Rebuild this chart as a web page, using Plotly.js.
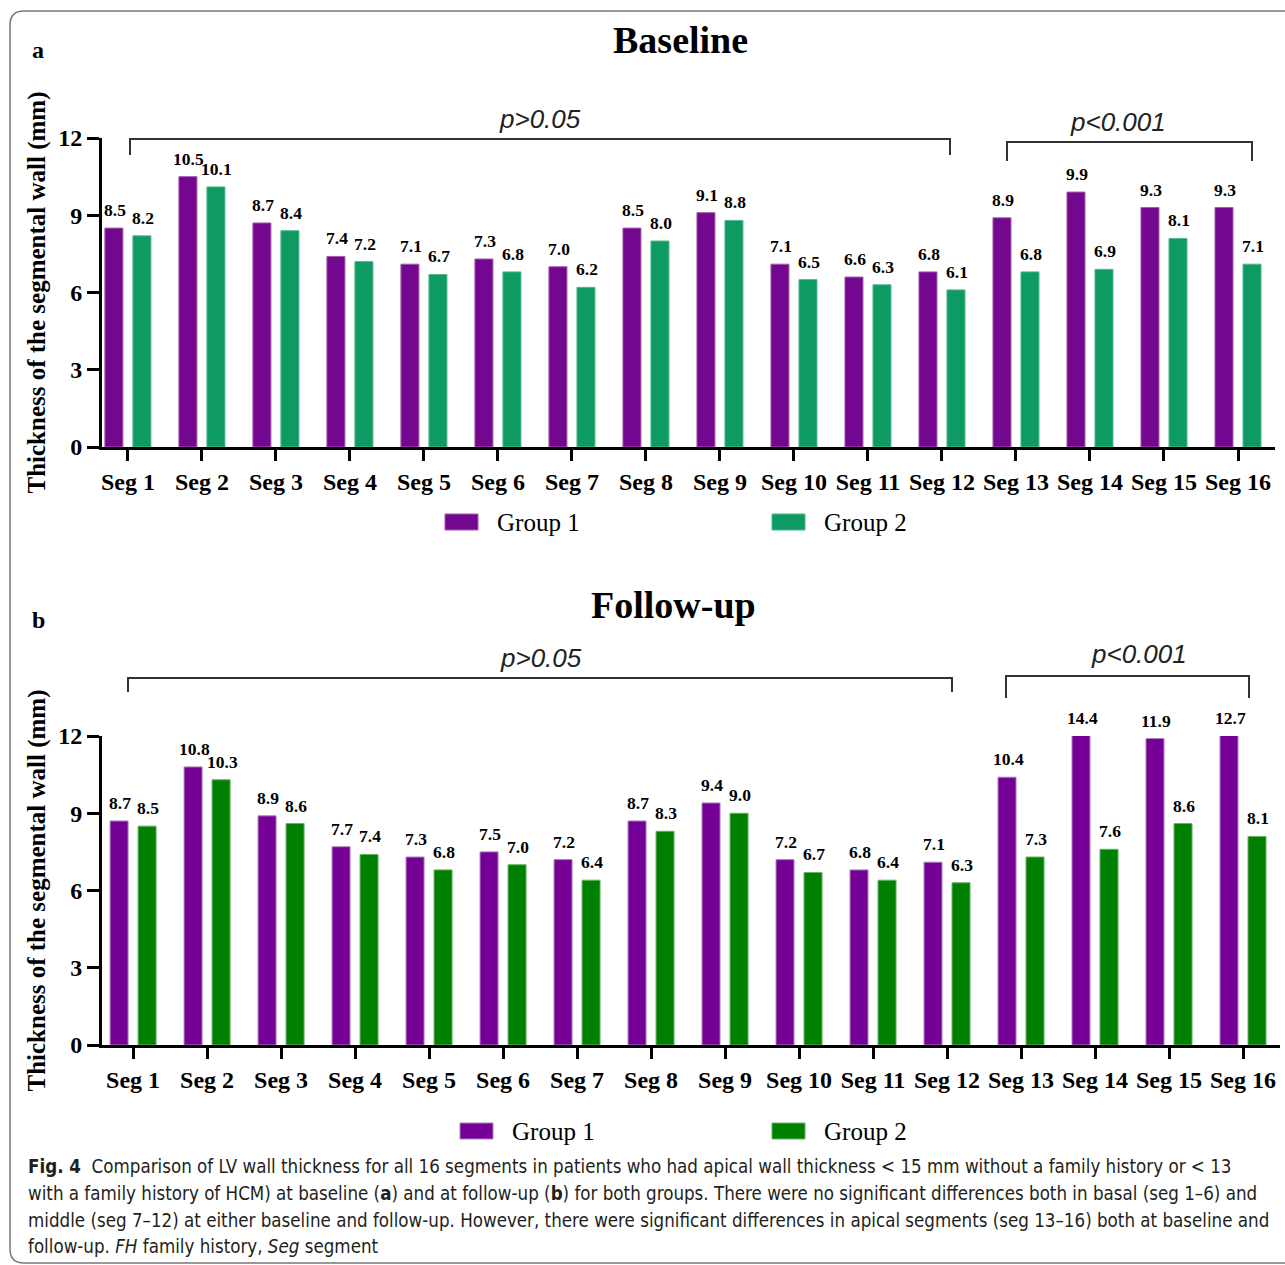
<!DOCTYPE html>
<html>
<head>
<meta charset="utf-8">
<script src="https://cdn.plot.ly/plotly-3.0.1.min.js"></script>
<style>html,body{margin:0;padding:0;background:#fff;}#chart{width:1285px;height:1265px;}</style>
</head>
<body>
<div id="chart"></div>
<script>
// ---------- DATA ----------
const segments = ['Seg 1','Seg 2','Seg 3','Seg 4','Seg 5','Seg 6','Seg 7','Seg 8','Seg 9','Seg 10','Seg 11','Seg 12','Seg 13','Seg 14','Seg 15','Seg 16'];
const yTicks = [0, 3, 6, 9, 12];
const baselineGroup1 = [8.5,10.5,8.7,7.4,7.1,7.3,7.0,8.5,9.1,7.1,6.6,6.8,8.9,9.9,9.3,9.3];
const baselineGroup2 = [8.2,10.1,8.4,7.2,6.7,6.8,6.2,8.0,8.8,6.5,6.3,6.1,6.8,6.9,8.1,7.1];
const followGroup1   = [8.7,10.8,8.9,7.7,7.3,7.5,7.2,8.7,9.4,7.2,6.8,7.1,10.4,14.4,11.9,12.7];
const followGroup2   = [8.5,10.3,8.6,7.4,6.8,7.0,6.4,8.3,9.0,6.7,6.4,6.3,7.3,7.6,8.6,8.1];
const seriesNames = ['Group 1','Group 2'];
const panelTitles = ['Baseline','Follow-up'];
const panelLetters = ['a','b'];
const pLabels = ['p>0.05','p<0.001'];
const captionLines = [
  '<b>Fig. 4</b>  Comparison of LV wall thickness for all 16 segments in patients who had apical wall thickness &lt; 15 mm without a family history or &lt; 13',
  'with a family history of HCM) at baseline (<b>a</b>) and at follow-up (<b>b</b>) for both groups. There were no significant differences both in basal (seg 1–6) and',
  'middle (seg 7–12) at either baseline and follow-up. However, there were significant differences in apical segments (seg 13–16) both at baseline and',
  'follow-up. <i>FH</i> family history, <i>Seg</i> segment'
];

// ---------- STYLE / LAYOUT HELPERS ----------
const W = 1285, H = 1265;
const px = x => x / W;
const py = y => 1 - y / H;
const SERIF = 'Liberation Serif, Times New Roman, serif';
const SANS = 'Liberation Sans, Arial, sans-serif';
const NARROW = 'Liberation Sans Narrow, Arial Narrow, DejaVu Sans Condensed, sans-serif';
const colorsA = ['#74078f', '#0e9a63'];
const colorsB = ['#740096', '#008000'];
const borderA = ['#a35aa8', '#4fb98c'];
const borderB = ['#b07fc5', '#66b266'];
const YMAX = 12;

function barTrace(vals, name, color, line, xa, ya) {
  return {
    type: 'bar', x: segments, y: vals, name: name, xaxis: xa, yaxis: ya,
    marker: {color: color, line: {color: line, width: 1}},
    showlegend: false, hoverinfo: 'x+y+name'
  };
}

const data = [
  barTrace(baselineGroup1, seriesNames[0], colorsA[0], borderA[0], 'x', 'y'),
  barTrace(baselineGroup2, seriesNames[1], colorsA[1], borderA[1], 'x', 'y'),
  barTrace(followGroup1, seriesNames[0], colorsB[0], borderB[0], 'x2', 'y2'),
  barTrace(followGroup2, seriesNames[1], colorsB[1], borderB[1], 'x2', 'y2')
];

function xAxis(domain, range, anchor) {
  return {
    domain: domain, anchor: anchor, type: 'category', range: range,
    showline: true, linewidth: 3, linecolor: '#000', ticks: 'outside', ticklen: 11, tickwidth: 3, tickcolor: '#000',
    tickfont: {family: SERIF, size: 24, color: '#000', weight: 'bold'},
    showgrid: false, zeroline: false, fixedrange: true
  };
}
function yAxis(domain, anchor) {
  return {
    domain: domain, anchor: anchor, range: [0, YMAX], tickvals: yTicks, ticktext: yTicks.map(String),
    showline: true, linewidth: 3, linecolor: '#000', ticks: 'outside', ticklen: 12, tickwidth: 3, tickcolor: '#000',
    tickfont: {family: SERIF, size: 24, color: '#000', weight: 'bold'},
    showgrid: false, zeroline: false, fixedrange: true,
    title: {text: 'Thickness of the segmental wall (mm)', standoff: 6, font: {family: SERIF, size: 25, color: '#000', weight: 'bold'}}
  };
}

const annotations = [];
const shapes = [];

// value labels
function addLabels(vals, xref, yref, shift) {
  vals.forEach((v, i) => {
    annotations.push({
      xref: xref, yref: yref, x: i, y: Math.min(v, YMAX), xshift: shift, yshift: 6,
      yanchor: 'bottom', xanchor: 'center', showarrow: false,
      text: v.toFixed(1), font: {family: SERIF, size: 17.5, color: '#000', weight: 'bold'}
    });
  });
}
addLabels(baselineGroup1, 'x', 'y', -13);
addLabels(baselineGroup2, 'x', 'y', 15);
addLabels(followGroup1, 'x2', 'y2', -13);
addLabels(followGroup2, 'x2', 'y2', 15);

function txt(x, y, text, font, xanchor) {
  annotations.push({xref: 'paper', yref: 'paper', x: px(x), y: py(y), text: text, showarrow: false,
    xanchor: xanchor || 'center', yanchor: 'middle', font: font});
}
// titles, letters
txt(680, 40, panelTitles[0], {family: SERIF, size: 38, color: '#000', weight: 'bold'});
txt(673, 605, panelTitles[1], {family: SERIF, size: 38, color: '#000', weight: 'bold'});
txt(38, 50, panelLetters[0], {family: SERIF, size: 24, color: '#000', weight: 'bold'});
txt(38, 620, panelLetters[1], {family: SERIF, size: 24, color: '#000', weight: 'bold'});
// p-values
const pFont = {family: SANS, size: 26, color: '#222', style: 'italic'};
txt(540, 119, pLabels[0], pFont);
txt(1118, 122, pLabels[1], pFont);
txt(541, 658, pLabels[0], pFont);
txt(1139, 654, pLabels[1], pFont);

function bracket(x0, x1, yTop, yBot) {
  shapes.push({type: 'path', xref: 'paper', yref: 'paper',
    path: `M ${px(x0)} ${py(yBot)} L ${px(x0)} ${py(yTop)} L ${px(x1)} ${py(yTop)} L ${px(x1)} ${py(yBot)}`,
    line: {color: '#333', width: 2}});
}
bracket(130, 950, 139, 155);
bracket(1007, 1252, 142, 161);
bracket(128, 952, 678, 692);
bracket(1006, 1249, 676, 698);

// legends
function legendItem(x, y, color, line, label) {
  shapes.push({type: 'rect', xref: 'paper', yref: 'paper', x0: px(x), x1: px(x + 33), y0: py(y + 8), y1: py(y - 8),
    fillcolor: color, line: {color: line, width: 1}});
  txt(x + 50, y, label, {family: SERIF, size: 25, color: '#000'}, 'left');
}
legendItem(445, 522, colorsA[0], borderA[0], seriesNames[0]);
legendItem(772, 522, colorsA[1], borderA[1], seriesNames[1]);
legendItem(460, 1131, colorsB[0], borderB[0], seriesNames[0]);
legendItem(772, 1131, colorsB[1], borderB[1], seriesNames[1]);

// caption
const capY = [1166, 1193, 1220, 1246];
captionLines.forEach((l, i) => txt(26, capY[i], l, {family: NARROW, size: 18.6, color: '#231f20'}, 'left'));

// frame
shapes.push({type: 'path', xref: 'paper', yref: 'paper', layer: 'below',
  path: `M ${px(1300)} ${py(11)} L ${px(24)} ${py(11)} Q ${px(10)} ${py(11)} ${px(10)} ${py(25)} L ${px(10)} ${py(1249)} Q ${px(10)} ${py(1263)} ${px(24)} ${py(1263)} L ${px(1300)} ${py(1263)}`,
  line: {color: '#777', width: 1.5}});

const layout = {
  width: W, height: H, margin: {l: 0, r: 0, t: 0, b: 0},
  paper_bgcolor: '#fff', plot_bgcolor: 'rgba(0,0,0,0)',
  barmode: 'group', bargap: 0.243, bargroupgap: 0.357,
  showlegend: false,
  xaxis: xAxis([px(102), px(1275)], [-0.35, 15.5], 'y'),
  yaxis: yAxis([py(447), py(138)], 'x'),
  xaxis2: xAxis([px(102), px(1280)], [-0.42, 15.5], 'y2'),
  yaxis2: yAxis([py(1045), py(736)], 'x2'),
  annotations: annotations, shapes: shapes
};

Plotly.newPlot('chart', data, layout, {displayModeBar: false, staticPlot: true});
</script>
</body>
</html>
